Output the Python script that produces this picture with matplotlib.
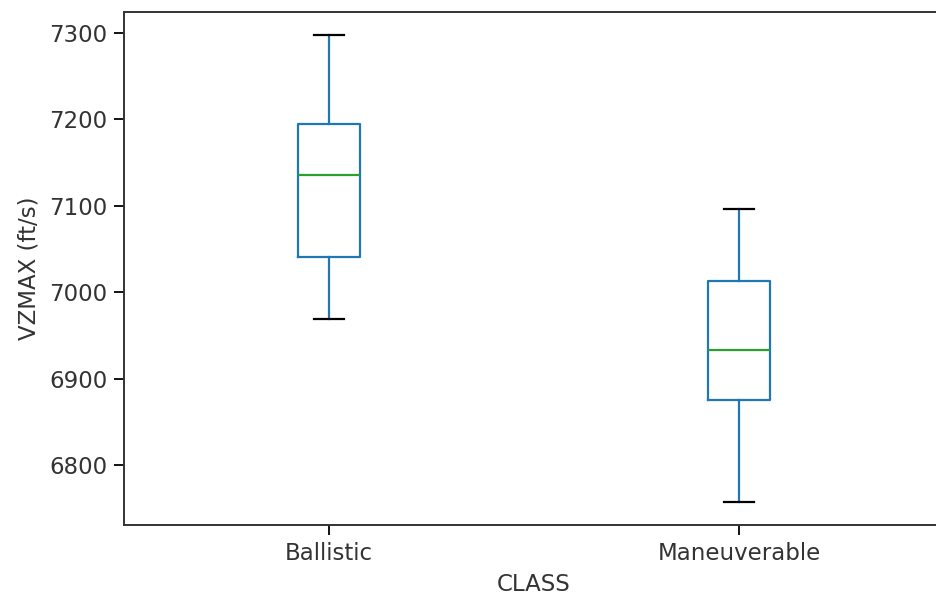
import matplotlib
matplotlib.use("Agg")
import matplotlib.pyplot as plt

plt.rcParams['font.family'] = ['DejaVu Sans']
plt.rcParams['font.size'] = 16.5

classes = ['Ballistic', 'Maneuverable']
whisker_low = [6969, 6758]
q1 = [7041, 6876]
median = [7135, 6933]
q3 = [7195, 7013]
whisker_high = [7297, 7096]

stats = []
for i, name in enumerate(classes):
    stats.append({'label': name, 'whislo': whisker_low[i], 'q1': q1[i],
                  'med': median[i], 'q3': q3[i], 'whishi': whisker_high[i],
                  'fliers': []})

fig = plt.figure(figsize=(9.37, 5.99), dpi=100)
ax = fig.add_axes([124/937, 1 - 525/599, 820/937, 513/599])

blue = '#1f77b4'
ax.bxp(stats, widths=0.15,
       boxprops=dict(color=blue, linewidth=1.6),
       whiskerprops=dict(color=blue, linewidth=1.6),
       capprops=dict(color='black', linewidth=1.6),
       medianprops=dict(color='#2ca02c', linewidth=1.6))

ax.set_xlim(0.5, 2.5)
ax.set_yticks([6800, 6900, 7000, 7100, 7200, 7300])
ax.set_xlabel('CLASS', color='#333333', labelpad=6)
ax.set_ylabel('VZMAX (ft/s)', color='#333333', labelpad=6)
ax.tick_params(labelcolor='#333333', length=7, width=1.3, pad=5)
ax.spines['right'].set_visible(False)
for s in ax.spines.values():
    s.set_linewidth(1.4)
    s.set_color('#333333')

fig.savefig('out.png', dpi=100)
